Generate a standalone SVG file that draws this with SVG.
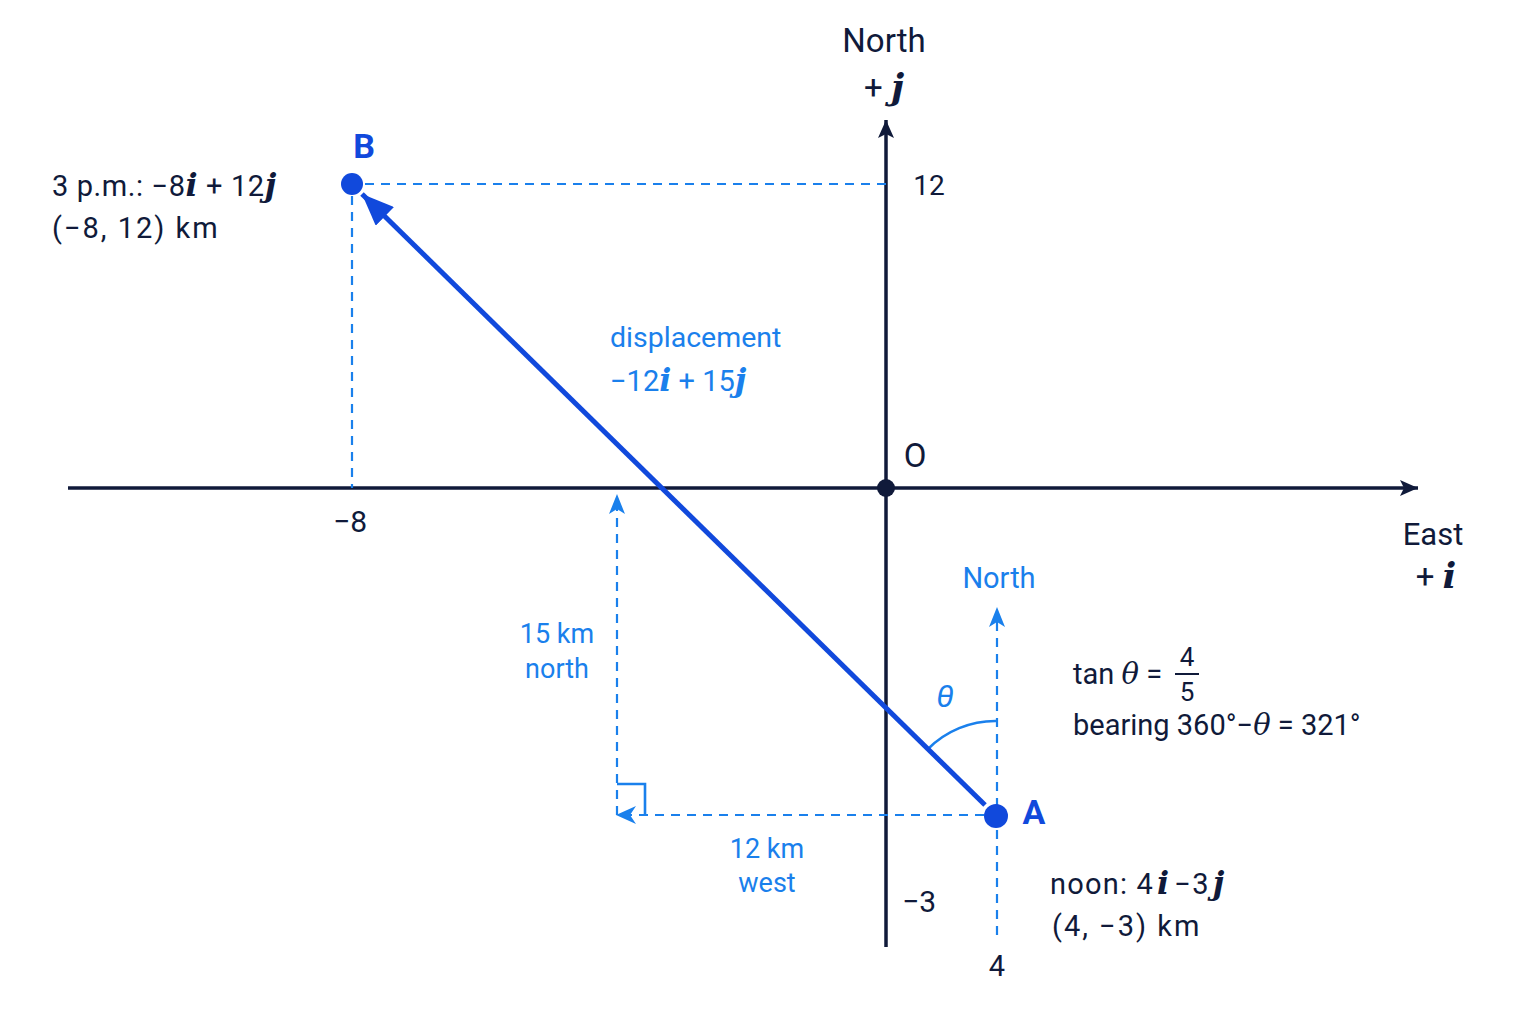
<svg xmlns="http://www.w3.org/2000/svg" width="1536" height="1024" viewBox="0 0 1536 1024">
<defs>
<style>
text{font-family:Roboto,"Noto Sans",sans-serif;}
.dk{fill:#101a3a;}
.bl{fill:#1a80ec;}
.bb{fill:#1149dc;font-weight:bold;}
.m{font-family:"DejaVu Serif","Liberation Serif",serif;font-style:italic;font-weight:bold;font-size:1.1em;}
.axis{stroke:#101a3a;stroke-width:3.5;fill:none;}
.dash{stroke:#1a80ec;stroke-width:2.2;fill:none;stroke-dasharray:9 7;}
.ah{fill:#1a80ec;}
</style>
<marker id="axh" markerWidth="20" markerHeight="16" refX="18" refY="8" orient="auto" markerUnits="userSpaceOnUse">
<path d="M0,0 L18,8 L0,16 L4,8 Z" fill="#101a3a"/>
</marker>
<marker id="disp" markerWidth="34" markerHeight="26" refX="32" refY="13" orient="auto" markerUnits="userSpaceOnUse">
<path d="M0,0 L32,13 L0,26 Z" fill="#1149dc"/>
</marker>
</defs>
<rect width="1536" height="1024" fill="#ffffff"/>

<g id="axes">
<line class="axis" x1="68" y1="488" x2="1418" y2="488" marker-end="url(#axh)"/>
<line class="axis" x1="886" y1="947" x2="886" y2="120" marker-end="url(#axh)"/>
<circle cx="886" cy="488" r="9" fill="#101a3a"/>
</g>

<g id="connectors">
<line class="dash" x1="365" y1="184" x2="886" y2="184"/>
<line class="dash" x1="352" y1="196" x2="352" y2="488"/>
<line class="dash" x1="997" y1="935" x2="997" y2="616"/>
<path class="ah" d="M989,627 L997,607 L1005,627 L997,622 Z"/>
<line class="dash" x1="984" y1="815" x2="624" y2="815"/>
<path class="ah" d="M636,806 L616,815 L636,824 L630,815 Z"/>
<line class="dash" x1="617" y1="815" x2="617" y2="502"/>
<path class="ah" d="M609,514 L617,494 L625,514 L617,509 Z"/>
<path d="M617,784 L645,784 L645,815" stroke="#1a80ec" stroke-width="2.6" fill="none"/>
<path d="M928,749 A95,95 0 0 1 996,721" stroke="#1a80ec" stroke-width="2.6" fill="none"/>
<line x1="985" y1="805" x2="362" y2="194" stroke="#1149dc" stroke-width="5" marker-end="url(#disp)"/>
</g>

<g id="node-B">
<circle cx="352" cy="184" r="11" fill="#1149dc"/>
<text class="bb" x="364" y="158" font-size="34" text-anchor="middle">B</text>
<text class="dk" x="52" y="196" font-size="29" letter-spacing="0.6">3 p.m.: −8<tspan class="m">i</tspan> + 12<tspan class="m">j</tspan></text>
<text class="dk" x="52" y="238" font-size="29" letter-spacing="2">(−8, 12) km</text>
</g>

<g id="node-A">
<circle cx="996" cy="816" r="12" fill="#1149dc"/>
<text class="bb" x="1034" y="824" font-size="34" text-anchor="middle">A</text>
<text class="dk" x="1050" y="894" font-size="29" letter-spacing="1.2">noon: 4<tspan class="m" dx="3">i</tspan><tspan dx="4">−3</tspan><tspan class="m" dx="3">j</tspan></text>
<text class="dk" x="1052" y="936" font-size="29" letter-spacing="2">(4, −3) km</text>
</g>

<g id="labels">
<text class="dk" x="884" y="52" font-size="33" text-anchor="middle">North</text>
<text class="dk" x="884" y="99" font-size="33" text-anchor="middle">+ <tspan class="m">j</tspan></text>
<text class="dk" x="929" y="195" font-size="28" text-anchor="middle">12</text>
<text class="dk" x="915" y="467" font-size="33" text-anchor="middle">O</text>
<text class="dk" x="350" y="532" font-size="30" text-anchor="middle">−8</text>
<text class="dk" x="1433" y="545" font-size="31" text-anchor="middle">East</text>
<text class="dk" x="1436" y="588" font-size="33" text-anchor="middle">+ <tspan class="m">i</tspan></text>
<text class="dk" x="919" y="912" font-size="30" text-anchor="middle">−3</text>
<text class="dk" x="997" y="976" font-size="29" text-anchor="middle">4</text>

<text class="bl" x="610" y="347" font-size="28.5">displacement</text>
<text class="bl" x="610" y="391" font-size="29">−12<tspan class="m">i</tspan> + 15<tspan class="m">j</tspan></text>
<text class="bl" x="999" y="588" font-size="29" text-anchor="middle">North</text>
<text class="bl" x="557" y="643" font-size="27" text-anchor="middle">15 km</text>
<text class="bl" x="557" y="678" font-size="27" text-anchor="middle">north</text>
<text class="bl" x="767" y="858" font-size="27" text-anchor="middle">12 km</text>
<text class="bl" x="767" y="892" font-size="27" text-anchor="middle">west</text>
<text class="bl" x="945" y="707" font-size="32" text-anchor="middle" font-family="DejaVu Serif,serif" font-style="italic">θ</text>

<text class="dk" x="1073" y="684" font-size="29">tan <tspan font-style="italic" font-family="DejaVu Serif,serif">θ</tspan> =</text>
<text class="dk" x="1187" y="666" font-size="26" text-anchor="middle">4</text>
<line x1="1175" y1="674" x2="1199" y2="674" stroke="#101a3a" stroke-width="2"/>
<text class="dk" x="1187" y="701" font-size="26" text-anchor="middle">5</text>
<text class="dk" x="1073" y="735" font-size="29">bearing 360°−<tspan font-style="italic" font-family="DejaVu Serif,serif">θ</tspan> = 321°</text>
</g>
</svg>
